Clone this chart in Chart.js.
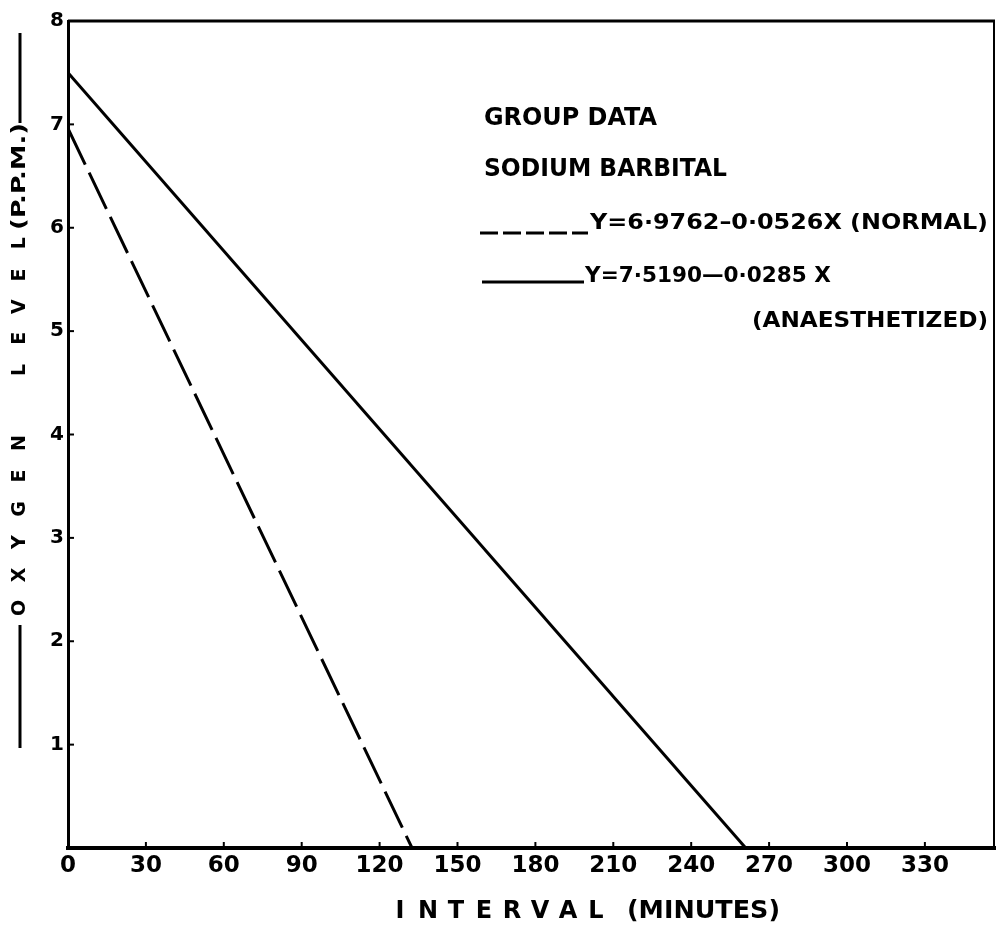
<!DOCTYPE html>
<html>
<head>
<meta charset="utf-8">
<script src="https://cdn.jsdelivr.net/npm/chart.js@4.4.1/dist/chart.umd.min.js"></script>
<style>
html, body { margin: 0; padding: 0; background: #fff; }
</style>
</head>
<body>
<canvas id="grafico" width="997" height="930"></canvas>
<script>
// tick labels
const xTicks = [0, 30, 60, 90, 120, 150, 180, 210, 240, 270, 300, 330];
const yTicks = [1, 2, 3, 4, 5, 6, 7, 8];

// normal group (dashed line), end points
const normalMin = [0, 132.5];
const normalO2 = [6.96, 0];

// anaesthetized group (solid line)
const anaesMin = [0, 261];
const anaesO2 = [7.5, 0];

const fuente = "'DejaVu Sans', 'Liberation Sans', sans-serif";

// stretch a text to a given width so the hand lettering lines up
function textoAncho(ctx, texto, x, y, ancho) {
    const m = ctx.measureText(texto).width;
    ctx.save();
    ctx.translate(x, y);
    ctx.scale(ancho / m, 1);
    ctx.fillText(texto, 0, 0);
    ctx.restore();
}

function letrasEspaciadas(ctx, texto, x0, paso, y) {
    for (let i = 0; i < texto.length; i++) {
        ctx.fillText(texto[i], x0 + i * paso, y);
    }
}

const marco = {
    id: 'marco',
    afterDraw(chart) {
        const ctx = chart.ctx;
        const a = chart.chartArea;
        const sx = chart.scales.x, sy = chart.scales.y;
        ctx.save();
        ctx.strokeStyle = '#000';
        ctx.fillStyle = '#000';

        // top and right sides of the box
        ctx.lineWidth = 3;
        ctx.beginPath();
        ctx.moveTo(a.left, a.top);
        ctx.lineTo(a.right, a.top);
        ctx.stroke();
        ctx.lineWidth = 2;
        ctx.beginPath();
        ctx.moveTo(a.right - 1, a.top);
        ctx.lineTo(a.right - 1, a.bottom);
        ctx.stroke();

        // small inward tick marks
        ctx.lineWidth = 2;
        xTicks.forEach(v => {
            if (v === 0) return;
            const px = sx.getPixelForValue(v);
            ctx.beginPath();
            ctx.moveTo(px, a.bottom);
            ctx.lineTo(px, a.bottom - 6);
            ctx.stroke();
        });
        yTicks.forEach(v => {
            const py = sy.getPixelForValue(v);
            ctx.beginPath();
            ctx.moveTo(a.left, py);
            ctx.lineTo(a.left + 6, py);
            ctx.stroke();
        });

        // note block in the upper right
        ctx.textBaseline = 'middle';
        ctx.textAlign = 'left';
        ctx.font = 'bold 25px ' + fuente;
        textoAncho(ctx, 'GROUP DATA', 484, 118, 173);
        textoAncho(ctx, 'SODIUM BARBITAL', 484, 169, 243);

        ctx.lineWidth = 3;
        ctx.setLineDash([18, 5]);
        ctx.beginPath();
        ctx.moveTo(480, 233);
        ctx.lineTo(588, 233);
        ctx.stroke();
        ctx.setLineDash([]);
        ctx.beginPath();
        ctx.moveTo(482, 282);
        ctx.lineTo(584, 282);
        ctx.stroke();

        ctx.font = 'bold 21px ' + fuente;
        textoAncho(ctx, 'Y=6·9762–0·0526X (NORMAL)', 590, 224, 398);
        textoAncho(ctx, 'Y=7·5190—0·0285 X', 585, 277, 246);
        textoAncho(ctx, '(ANAESTHETIZED)', 752, 322, 236);

        // x axis title
        ctx.font = 'bold 24px ' + fuente;
        ctx.textAlign = 'center';
        letrasEspaciadas(ctx, 'INTERVAL', 400, 28, 912);
        ctx.textAlign = 'left';
        textoAncho(ctx, '(MINUTES)', 627, 912, 153);

        // y axis title, written bottom to top
        ctx.translate(20, 0);
        ctx.rotate(-Math.PI / 2);
        ctx.lineWidth = 3;
        ctx.beginPath();
        ctx.moveTo(-748, 0);
        ctx.lineTo(-625, 0);
        ctx.stroke();
        ctx.beginPath();
        ctx.moveTo(-123, 0);
        ctx.lineTo(-33, 0);
        ctx.stroke();
        ctx.font = 'bold 19px ' + fuente;
        ctx.textAlign = 'center';
        letrasEspaciadas(ctx, 'OXYGEN', -608, 33, 0);
        letrasEspaciadas(ctx, 'LEVEL', -370, 31.7, 0);
        ctx.textAlign = 'left';
        textoAncho(ctx, '(P.P.M.)', -230, 0, 107);

        ctx.restore();
    }
};

const ctx = document.getElementById('grafico').getContext('2d');
new Chart(ctx, {
    type: 'scatter',
    data: {
        datasets: [{
            label: 'Normal',
            data: normalMin.map((m, i) => ({ x: m, y: normalO2[i] })),
            showLine: true,
            borderColor: '#000',
            borderWidth: 3,
            borderDash: [40, 9],
            pointRadius: 0,
            fill: false
        }, {
            label: 'Anaesthetized',
            data: anaesMin.map((m, i) => ({ x: m, y: anaesO2[i] })),
            showLine: true,
            borderColor: '#000',
            borderWidth: 3,
            pointRadius: 0,
            fill: false
        }]
    },
    options: {
        responsive: false,
        animation: false,
        layout: { padding: { top: 21, right: 2, left: 0, bottom: 0 } },
        plugins: {
            legend: { display: false },
            tooltip: { enabled: false }
        },
        scales: {
            x: {
                type: 'linear',
                min: 0,
                max: 357,
                afterFit(s) { s.height = 82; },
                afterBuildTicks(s) { s.ticks = xTicks.map(v => ({ value: v })); },
                grid: { display: false, drawTicks: false },
                border: { display: true, color: '#000', width: 4 },
                ticks: {
                    color: '#000',
                    padding: 4,
                    maxRotation: 0,
                    autoSkip: false,
                    font: { family: fuente, size: 23, weight: 'bold' }
                }
            },
            y: {
                min: 0,
                max: 8,
                afterFit(s) { s.width = 68; },
                afterBuildTicks(s) { s.ticks = yTicks.map(v => ({ value: v })); },
                grid: { display: false, drawTicks: false },
                border: { display: true, color: '#000', width: 3 },
                ticks: {
                    color: '#000',
                    padding: 4,
                    autoSkip: false,
                    font: { family: fuente, size: 20, weight: 'bold' }
                }
            }
        }
    },
    plugins: [marco]
});
</script>
</body>
</html>
